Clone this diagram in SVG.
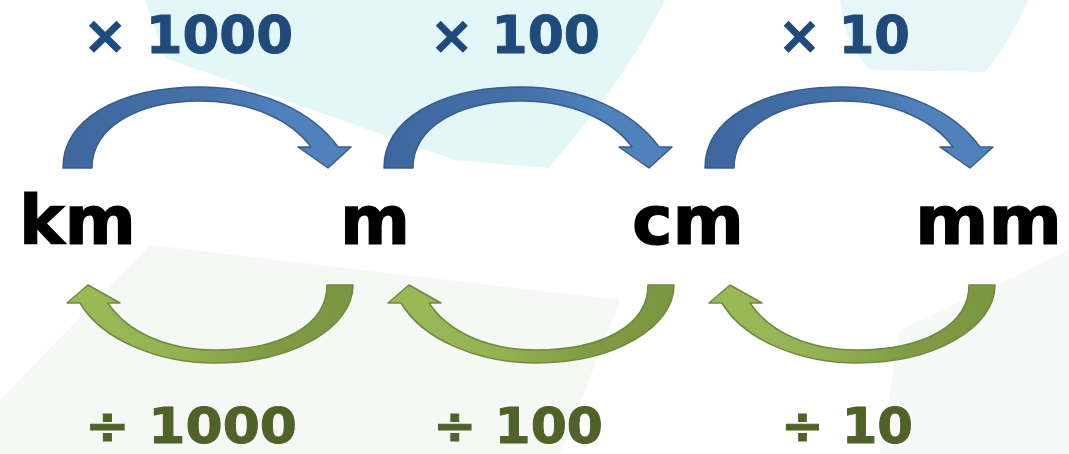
<svg xmlns="http://www.w3.org/2000/svg" width="1069" height="454" viewBox="0 0 1069 454">
  <style>
    .unit { font-family: "DejaVu Sans", "Liberation Sans", sans-serif; font-weight: bold; font-size: 68px; fill: #000000; stroke: #000000; stroke-width: 1.2; }
    .mul { font-family: "DejaVu Sans", "Liberation Sans", sans-serif; font-weight: bold; font-size: 52px; fill: #1F4A7C; stroke: #1F4A7C; stroke-width: 1; }
    .div { font-family: "DejaVu Sans", "Liberation Sans", sans-serif; font-weight: bold; font-size: 50px; fill: #4F6228; stroke: #4F6228; stroke-width: 1; }
    .blue { fill: url(#gBlue); stroke: #385D8A; stroke-width: 1.5; stroke-linejoin: round; }
    .green { fill: url(#gGreen); stroke: #71893F; stroke-width: 1.5; stroke-linejoin: round; }
  </style>
  <defs>
    <linearGradient id="gBlue" x1="0" y1="0" x2="1" y2="0">
      <stop offset="0" stop-color="#3E679F"/>
      <stop offset="0.5" stop-color="#4570A8"/>
      <stop offset="0.75" stop-color="#4F81BD"/>
      <stop offset="1" stop-color="#4F81BD"/>
    </linearGradient>
    <linearGradient id="gGreen" x1="0" y1="0" x2="1" y2="0">
      <stop offset="0" stop-color="#9BBB59"/>
      <stop offset="0.4" stop-color="#93B252"/>
      <stop offset="0.7" stop-color="#7F9C45"/>
      <stop offset="1" stop-color="#7A9640"/>
    </linearGradient>
    <path id="arrowUp" d="M63,168 C63,120 118,87 200,87 C262,87 313,112 338,147 L351,147 L328,168 L298,147 L311,147 C292,121 252,101 200,101 C138,101 92,127 92,168 Z"/>
    <path id="arrowDown" d="M353,285 C353,328 292,363 215,363 C158,363 102,340 80,303 L67,303 L88,285 L120,303 L108,303 C128,333 168,350 215,350 C282,350 327,325 327,285 Z"/>
  </defs>

  <g id="background">
    <rect x="0" y="0" width="1069" height="454" fill="#FFFFFF"/>
    <path d="M145,0 L665,0 C640,50 600,110 548,168 L455,160 L165,58 Z" fill="#E3F6F8"/>
    <path d="M840,0 L1028,0 C1015,30 1000,55 985,72 L870,70 C850,50 842,25 840,0 Z" fill="#E7F7F9"/>
    <path d="M0,400 L150,245 L620,300 L560,454 L0,454 Z" fill="#F5F8F5"/>
    <path d="M900,330 L1069,250 L1069,454 L880,454 Z" fill="#F6F9F7"/>
  </g>

  <g id="connectors">
    <use href="#arrowUp" class="blue"/>
    <use href="#arrowUp" class="blue" transform="translate(321,0)"/>
    <use href="#arrowUp" class="blue" transform="translate(642,0)"/>
    <use href="#arrowDown" class="green"/>
    <use href="#arrowDown" class="green" transform="translate(321,0)"/>
    <use href="#arrowDown" class="green" transform="translate(642,0)"/>
  </g>

  <g id="node-km"><text class="unit" x="19" y="244" textLength="117" lengthAdjust="spacingAndGlyphs">km</text></g>
  <g id="node-m"><text class="unit" x="340" y="244" textLength="70" lengthAdjust="spacingAndGlyphs">m</text></g>
  <g id="node-cm"><text class="unit" x="632" y="244" textLength="112" lengthAdjust="spacingAndGlyphs">cm</text></g>
  <g id="node-mm"><text class="unit" x="915" y="244" textLength="147" lengthAdjust="spacingAndGlyphs">mm</text></g>

  <g id="labels-multiply">
    <text class="mul" x="83" y="53" textLength="210" lengthAdjust="spacingAndGlyphs">× 1000</text>
    <text class="mul" x="430" y="53" textLength="170" lengthAdjust="spacingAndGlyphs">× 100</text>
    <text class="mul" x="778" y="53" textLength="132" lengthAdjust="spacingAndGlyphs">× 10</text>
  </g>
  <g id="labels-divide">
    <text class="div" x="85" y="443" textLength="212" lengthAdjust="spacingAndGlyphs">÷ 1000</text>
    <text class="div" x="433" y="443" textLength="170" lengthAdjust="spacingAndGlyphs">÷ 100</text>
    <text class="div" x="781" y="443" textLength="132" lengthAdjust="spacingAndGlyphs">÷ 10</text>
  </g>
</svg>
